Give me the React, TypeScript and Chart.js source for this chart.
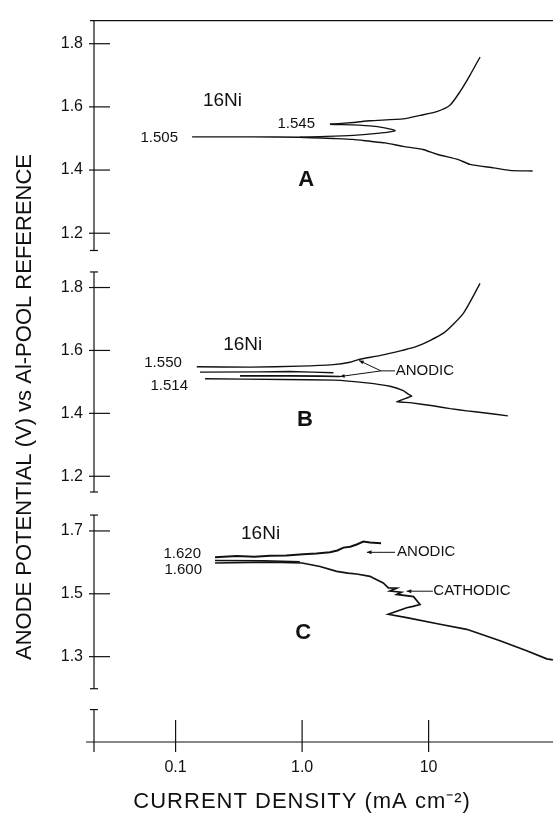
import { useEffect, useRef } from 'react';
import { Chart, registerables } from 'chart.js';

Chart.register(...registerables);

const FONT = "'Liberation Sans', Arial, Helvetica, sans-serif";
const INK = '#111111';

// ---------- axes ----------
const xTickValues = [0.1, 1, 10];
const xTickLabels = ['0.1', '1.0', '10'];
const xMin = 0.02265;
const xMax = 96.2;

const panelIds = ['yA', 'yB', 'yC'];
const yTicksA = [1.2, 1.4, 1.6, 1.8];
const yTicksB = [1.2, 1.4, 1.6, 1.8];
const yTicksC = [1.3, 1.5, 1.7];
const panelMin = [1.1113, 1.1139, 1.1642];
const panelMax = [1.8732, 1.8836, 1.7878];
const panelWeight = [242.5, 244, 197.5];
const axisTop = [1.8732, 1.8495, 1.7505];
const axisBottom = [1.1453, 1.15, 1.198];
const footWeight = 43;
const footAxisTop = 0.76;

const yTitle = 'ANODE POTENTIAL (V) vs Al-POOL REFERENCE';
const xTitle = 'CURRENT DENSITY (mA cm\u207B\u00B2)';

// ---------- panel A (x: mA cm-2, y: V) ----------
const aCathodic: [number, number][] = [
  [0.135, 1.505], [0.4, 1.505], [0.96, 1.504], [1.88, 1.4995], [2.51, 1.497],
  [3.44, 1.491], [4.52, 1.486], [6.31, 1.475], [9.03, 1.465], [11.6, 1.45],
  [17.2, 1.433], [21.2, 1.418], [32.7, 1.407], [43.7, 1.399], [66.4, 1.397],
];
const aLoop: [number, number][] = [
  [0.96, 1.5045], [1.38, 1.506], [2.54, 1.51], [4.1, 1.517], [5.43, 1.5245],
  [4.6, 1.533], [3.44, 1.54], [1.66, 1.545],
];
const aAnodic: [number, number][] = [
  [1.66, 1.545], [2.54, 1.5505], [3.44, 1.556], [6.31, 1.562], [8.55, 1.573],
  [11.6, 1.585], [14.8, 1.606], [17.7, 1.648], [21.2, 1.7], [25.5, 1.758],
];

// ---------- panel B ----------
const bAnodic: [number, number][] = [
  [0.147, 1.548], [0.39, 1.547], [0.96, 1.55], [1.77, 1.555], [2.39, 1.5625],
  [2.78, 1.571], [4.38, 1.586], [8.05, 1.613], [13.1, 1.655], [18.8, 1.718], [25.5, 1.813],
];
const bMid1: [number, number][] = [
  [0.156, 1.531], [0.45, 1.532], [0.8, 1.533], [1.2, 1.531], [1.77, 1.529],
];
const bMid2: [number, number][] = [
  [0.323, 1.519], [0.8, 1.519], [1.4, 1.5185], [2.0, 1.517],
];
const bCathodic: [number, number][] = [
  [0.171, 1.51], [0.71, 1.5076], [1.77, 1.5057], [3.24, 1.497], [4.95, 1.486],
  [6.31, 1.472], [6.91, 1.461], [7.35, 1.455], [5.6, 1.437], [7.13, 1.434],
  [10.8, 1.424], [14.8, 1.415], [20.0, 1.408], [27.1, 1.402], [42.3, 1.392],
];

// ---------- panel C ----------
const cAnodic: [number, number][] = [
  [0.205, 1.616], [0.304, 1.62], [0.42, 1.618], [0.558, 1.621], [0.75, 1.622],
  [1.02, 1.626], [1.3, 1.628], [1.66, 1.632], [1.9, 1.638], [2.12, 1.647],
  [2.4, 1.65], [2.7, 1.657], [3.05, 1.666], [3.44, 1.663], [4.21, 1.661],
];
const cMid: [number, number][] = [
  [0.205, 1.606], [0.5, 1.605], [0.96, 1.602],
];
const cCathodic: [number, number][] = [
  [0.205, 1.598], [0.56, 1.601], [1.0, 1.598], [1.385, 1.587], [1.877, 1.5715],
  [2.3, 1.566], [2.7, 1.563], [3.44, 1.5557], [3.65, 1.55], [4.38, 1.5345],
  [4.8, 1.519], [5.6, 1.518], [4.95, 1.509], [6.1, 1.505], [5.6, 1.498],
  [7.6, 1.491], [8.55, 1.466], [7.53, 1.46], [6.71, 1.4556], [4.8, 1.4348],
  [6.71, 1.424], [12.3, 1.403], [20.0, 1.387], [36.7, 1.3505], [59.6, 1.319],
  [85.9, 1.293], [96, 1.2895],
];

// ---------- annotations (data coordinates) ----------
const annotations = [
  { panel: 'yA', text: '16Ni', x: 0.1646, y: 1.618, kind: 'alloy' },
  { panel: 'yA', text: '1.505', x: 0.1045, y: 1.5025, kind: 'value' },
  { panel: 'yA', text: '1.545', x: 1.265, y: 1.5455, kind: 'value' },
  { panel: 'yA', text: 'A', x: 1.075, y: 1.368, kind: 'panel' },
  { panel: 'yB', text: '16Ni', x: 0.238, y: 1.618, kind: 'alloy' },
  { panel: 'yB', text: '1.550', x: 0.112, y: 1.56, kind: 'value' },
  { panel: 'yB', text: '1.514', x: 0.1253, y: 1.4886, kind: 'value' },
  { panel: 'yB', text: 'ANODIC', x: 5.5, y: 1.535, kind: 'note' },
  { panel: 'yB', text: 'B', x: 1.054, y: 1.379, kind: 'panel' },
  { panel: 'yC', text: '16Ni', x: 0.329, y: 1.692, kind: 'alloy' },
  { panel: 'yC', text: '1.620', x: 0.1588, y: 1.628, kind: 'value' },
  { panel: 'yC', text: '1.600', x: 0.1617, y: 1.5746, kind: 'value' },
  { panel: 'yC', text: 'ANODIC', x: 5.63, y: 1.632, kind: 'note' },
  { panel: 'yC', text: 'CATHODIC', x: 10.9, y: 1.5083, kind: 'note' },
  { panel: 'yC', text: 'C', x: 1.02, y: 1.3767, kind: 'panel' },
];
const leaders = [
  { panel: 'yB', from: [5.42, 1.535], to: [4.2, 1.535], head: false },
  { panel: 'yB', from: [4.2, 1.535], to: [2.82, 1.568], head: true },
  { panel: 'yB', from: [4.2, 1.535], to: [1.995, 1.517], head: true },
  { panel: 'yC', from: [5.43, 1.632], to: [3.25, 1.632], head: true },
  { panel: 'yC', from: [10.8, 1.5083], to: [6.71, 1.5083], head: true },
];

const kindStyle: Record<string, { font: string; align: CanvasTextAlign }> = {
  alloy: { font: `19px ${FONT}`, align: 'left' },
  value: { font: `15px ${FONT}`, align: 'right' },
  note: { font: `15px ${FONT}`, align: 'left' },
  panel: { font: `bold 22px ${FONT}`, align: 'center' },
};

const toPts = (arr: [number, number][]) => arr.map(([x, y]) => ({ x, y }));

const decorPlugin = {
  id: 'decor',
  afterDraw(chart: any) {
    const ctx: CanvasRenderingContext2D = chart.ctx;
    const { left, right, top, bottom } = chart.chartArea;
    const xs = chart.scales.x;
    ctx.save();
    ctx.strokeStyle = INK;
    ctx.fillStyle = INK;
    ctx.lineWidth = 1.2;
    const line = (x1: number, y1: number, x2: number, y2: number) => {
      ctx.beginPath();
      ctx.moveTo(x1, y1);
      ctx.lineTo(x2, y2);
      ctx.stroke();
    };
    // top frame line
    line(left - 4, top, right, top);
    // panel y axes
    panelIds.forEach((id, i) => {
      const s = chart.scales[id];
      const y1 = s.getPixelForValue(axisTop[i]);
      const y2 = s.getPixelForValue(axisBottom[i]);
      line(left, y1, left, y2);
      if (i > 0) line(left - 4, y1, left + 4, y1);
      line(left - 4, y2, left + 4, y2);
      s.ticks.forEach((t: any) => {
        const y = s.getPixelForValue(t.value);
        line(left - 5, y, left + 16, y);
      });
    });
    // foot segment
    const f = chart.scales.yD;
    const fy = f.getPixelForValue(footAxisTop);
    line(left, fy, left, bottom + 10);
    line(left - 4, fy, left + 4, fy);
    // x axis
    line(left - 8, bottom, right, bottom);
    xTickValues.forEach((v) => {
      const px = xs.getPixelForValue(v);
      line(px, bottom - 22, px, bottom + 10);
    });
    // leaders
    leaders.forEach((l) => {
      const s = chart.scales[l.panel];
      const x1 = xs.getPixelForValue(l.from[0]);
      const y1 = s.getPixelForValue(l.from[1]);
      const x2 = xs.getPixelForValue(l.to[0]);
      const y2 = s.getPixelForValue(l.to[1]);
      ctx.lineWidth = 1;
      line(x1, y1, x2, y2);
      if (l.head) {
        const a = Math.atan2(y2 - y1, x2 - x1);
        const h = 5;
        ctx.beginPath();
        ctx.moveTo(x2, y2);
        ctx.lineTo(x2 - h * Math.cos(a - 0.4), y2 - h * Math.sin(a - 0.4));
        ctx.lineTo(x2 - h * Math.cos(a + 0.4), y2 - h * Math.sin(a + 0.4));
        ctx.closePath();
        ctx.fill();
      }
    });
    // annotations
    ctx.textBaseline = 'middle';
    annotations.forEach((a) => {
      const s = chart.scales[a.panel];
      const st = kindStyle[a.kind];
      ctx.font = st.font;
      ctx.textAlign = st.align;
      ctx.fillText(a.text, xs.getPixelForValue(a.x), s.getPixelForValue(a.y));
    });
    // titles
    ctx.font = `22px ${FONT}`;
    ctx.textAlign = 'center';
    ctx.save();
    ctx.translate(25, chart.height / 2);
    ctx.rotate(-Math.PI / 2);
    ctx.fillText(yTitle, 0, 0);
    ctx.restore();
    (ctx as any).letterSpacing = '1px';
    ctx.fillText(xTitle, xs.getPixelForValue(1), bottom + 60);
    ctx.restore();
  },
};

function yScale(idx: number, ticks: number[]) {
  return {
    type: 'linear' as const,
    position: 'left' as const,
    stack: 'panels',
    stackWeight: panelWeight[idx],
    min: panelMin[idx],
    max: panelMax[idx],
    afterBuildTicks: (s: any) => {
      s.ticks = ticks.map((v) => ({ value: v }));
    },
    afterFit: (s: any) => {
      s.width = 94;
    },
    ticks: {
      callback: (v: any) => Number(v).toFixed(1),
      color: INK,
      padding: 11,
      font: { size: 16, family: FONT },
    },
    grid: { display: false, drawTicks: false },
    border: { display: false },
  };
}

export default function App() {
  const ref = useRef<HTMLCanvasElement>(null);
  useEffect(() => {
    if (!ref.current) return;
    const ds = (data: [number, number][], id: string, width = 1.4, tension = 0.2) => ({
      data: toPts(data),
      yAxisID: id,
      showLine: true,
      borderColor: INK,
      borderWidth: width,
      pointRadius: 0,
      tension,
      fill: false,
    });
    const chart = new Chart(ref.current, {
      type: 'scatter',
      data: {
        datasets: [
          ds(aCathodic, 'yA'),
          ds(aLoop, 'yA', 1.3, 0.3),
          ds(aAnodic, 'yA'),
          ds(bAnodic, 'yB'),
          ds(bMid1, 'yB', 1.4, 0),
          ds(bMid2, 'yB', 1.6, 0),
          ds(bCathodic, 'yB', 1.4, 0.1),
          ds(cAnodic, 'yC', 2, 0),
          ds(cMid, 'yC', 1.4, 0),
          ds(cCathodic, 'yC', 1.7, 0),
        ],
      },
      options: {
        animation: false,
        responsive: false,
        devicePixelRatio: 1,
        layout: { padding: { top: 15, right: 0, left: 0, bottom: 0 } },
        plugins: { legend: { display: false }, tooltip: { enabled: false }, title: { display: false } },
        scales: {
          x: {
            type: 'logarithmic',
            position: 'bottom',
            min: xMin,
            max: xMax,
            afterBuildTicks: (s: any) => {
              s.ticks = xTickValues.map((v) => ({ value: v }));
            },
            afterFit: (s: any) => {
              s.height = 72;
            },
            ticks: {
              callback: (_v: any, i: number) => xTickLabels[i],
              color: INK,
              padding: 16,
              maxRotation: 0,
              autoSkip: false,
              font: { size: 16, family: FONT },
            },
            grid: { display: false, drawTicks: false },
            border: { display: false },
          },
          yD: {
            type: 'linear',
            position: 'left',
            stack: 'panels',
            stackWeight: footWeight,
            min: 0,
            max: 1,
            afterFit: (s: any) => {
              s.width = 94;
            },
            ticks: { display: false },
            grid: { display: false, drawTicks: false },
            border: { display: false },
          },
          yC: yScale(2, yTicksC),
          yB: yScale(1, yTicksB),
          yA: yScale(0, yTicksA),
        } as any,
      },
      plugins: [decorPlugin],
    });
    return () => chart.destroy();
  }, []);
  return (
    <div style={{ position: 'absolute', left: 0, top: 0, width: 553, height: 814, background: '#fff' }}>
      <canvas ref={ref} width={553} height={814} />
    </div>
  );
}
